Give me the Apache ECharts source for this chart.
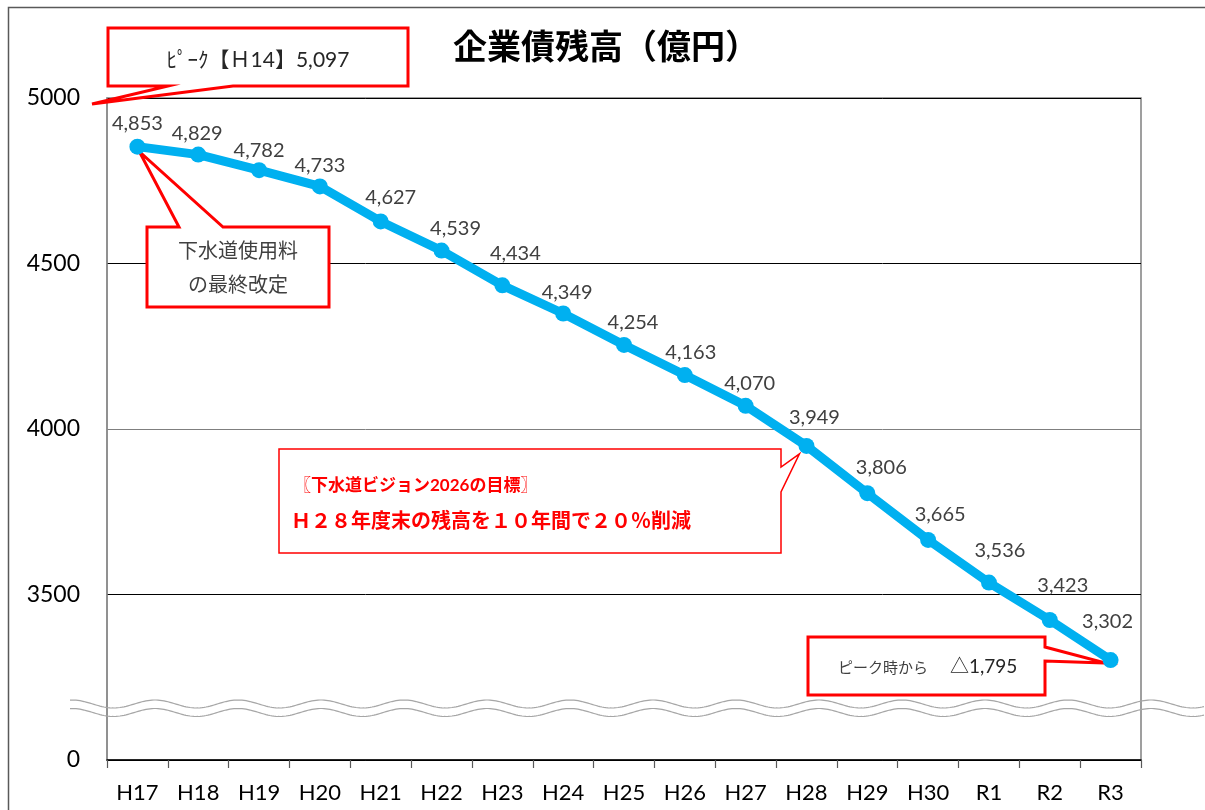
<!DOCTYPE html>
<html><head><meta charset="utf-8">
<script src="https://cdn.jsdelivr.net/npm/echarts@6/dist/echarts.min.js"></script>
<style>html,body{margin:0;padding:0;background:#fff}#c{width:1205px;height:810px}</style>
</head><body><div id="c"></div>
<script>
// ---- data ----
const categories = ['H17','H18','H19','H20','H21','H22','H23','H24','H25','H26','H27','H28','H29','H30','R1','R2','R3'];
const balances = [4853,4829,4782,4733,4627,4539,4434,4349,4254,4163,4070,3949,3806,3665,3536,3423,3302];
const yTicks = [3000,3500,4000,4500,5000];
const yTickLabels = ['0','3500','4000','4500','5000'];
const peakYear = 'Ｈ14';
const peakValue = 5097;
const titleText = '企業債残高（億円）';
const revisionNote = ['下水道使用料','の最終改定'];
const visionTitle = '〖下水道ビジョン2026の目標〗';
const visionGoal = 'Ｈ２８年度末の残高を１０年間で２０％削減';
const reductionLabel = 'ピーク時から';

// ---- layout (label nudges, px) ----
const labelOffsets = [[0,-23],[-1,-21],[0,-20],[0,-21],[10,-24],[14,-22],[13,-32],[4,-21],[9,-22],[6,-23],[4,-22],[8,-28],[14,-26],[12,-25],[11,-32],[13,-34],[-3,-38]];

const fmt = v => v.toLocaleString('en-US');
const LATIN = 'Lato, "Noto Sans CJK JP", sans-serif';
const CJK = '"Noto Sans CJK JP", sans-serif';

const chart = echarts.init(document.getElementById('c'));
chart.setOption({
  animation: false,
  backgroundColor: '#fff',
  title: {
    text: titleText, left: 453, top: 29, padding: 0,
    textStyle: {fontFamily: CJK, fontSize: 34, fontWeight: 'bold', color: '#000'}
  },
  grid: {left: 107, right: 64, top: 98, bottom: 50, show: true, borderColor: '#808080', borderWidth: 1.5},
  xAxis: {
    type: 'category', data: categories, boundaryGap: true,
    axisLine: {lineStyle: {color: '#000', width: 1.5}},
    axisTick: {show: true, length: 8, lineStyle: {color: '#595959', width: 1.2}},
    axisLabel: {fontFamily: LATIN, fontSize: 22, color: '#000', margin: 22}
  },
  yAxis: {
    type: 'value', min: yTicks[0], max: yTicks[yTicks.length-1], interval: 500,
    axisLine: {show: true, lineStyle: {color: '#8c8c8c', width: 1.5}},
    axisTick: {show: false},
    axisLabel: {fontFamily: LATIN, fontSize: 23, color: '#000', margin: 27,
      formatter: v => yTickLabels[yTicks.indexOf(v)]},
    splitLine: {show: true, lineStyle: {color: ['#000','#000','#7f7f7f','#000','#000'], width: 1}}
  },
  series: [{
    type: 'line', z: 5,
    data: balances.map((v, i) => ({value: v, label: {offset: labelOffsets[i]}})),
    lineStyle: {color: '#00B0F0', width: 9},
    itemStyle: {color: '#00B0F0'},
    symbol: 'circle', symbolSize: 16,
    label: {show: true, position: 'inside', align: 'center', verticalAlign: 'middle',
      fontFamily: LATIN, fontSize: 20, color: '#404040', formatter: p => fmt(p.value)}
  }]
});

const pt = i => chart.convertToPixel({gridIndex: 0}, [i, balances[i]]);
const last = balances.length - 1;
const p0 = pt(0), p11 = pt(11), pL = pt(last);

function wave(y0) {
  const pts = [];
  for (let x = 70; x <= 1205; x += 2) pts.push([x, y0 - 4 * Math.cos(2 * Math.PI * (x - 155) / 83)]);
  return pts;
}
const RED = '#FF0000';
chart.setOption({
  graphic: [
    {type: 'rect', z: 0, silent: true, shape: {x: 8.5, y: 7.5, width: 1300, height: 900}, style: {fill: 'none', stroke: '#595959', lineWidth: 1.5}},
    {type: 'polyline', z: 1, silent: true, shape: {points: wave(704)}, style: {stroke: '#a6a6a6', lineWidth: 1.2, fill: 'none'}},
    {type: 'polyline', z: 1, silent: true, shape: {points: wave(712.5)}, style: {stroke: '#a6a6a6', lineWidth: 1.2, fill: 'none'}},
    // peak callout
    {type: 'polygon', z: 1, shape: {points: [[108,28],[408,28],[408,86],[233,86],[92,104],[168,86],[108,86]]}, style: {fill: '#fff', stroke: RED, lineWidth: 3}},
    {type: 'text', z: 2, style: {x: 258, y: 60, text: 'ﾋﾟｰｸ【' + peakYear + '】' + fmt(peakValue), font: '21px ' + LATIN, fill: '#262626', align: 'center', verticalAlign: 'middle'}},
    // revision callout
    {type: 'polygon', z: 1, shape: {points: [[147,227],[179,227],[p0[0]+2,p0[1]+5],[223,227],[329,227],[329,307],[147,307]]}, style: {fill: '#fff', stroke: RED, lineWidth: 3}},
    {type: 'text', z: 2, style: {x: 238, y: 250, text: revisionNote[0], font: '20px ' + CJK, fill: '#404040', align: 'center', verticalAlign: 'middle'}},
    {type: 'text', z: 2, style: {x: 238, y: 284, text: revisionNote[1], font: '20px ' + CJK, fill: '#404040', align: 'center', verticalAlign: 'middle'}},
    // vision callout
    {type: 'polygon', z: 1, shape: {points: [[279,449],[781,449],[781,467],[p11[0]-7,p11[1]+8],[781,492],[781,553],[279,553]]}, style: {fill: '#fff', stroke: RED, lineWidth: 1.5}},
    {type: 'text', z: 2, style: {x: 294, y: 486, text: visionTitle, font: 'bold 17px ' + LATIN, fill: RED, align: 'left', verticalAlign: 'middle'}},
    {type: 'text', z: 2, style: {x: 291, y: 520, text: visionGoal, font: 'bold 20px ' + CJK, fill: RED, align: 'left', verticalAlign: 'middle'}},
    // reduction callout
    {type: 'polygon', z: 1, shape: {points: [[808,637],[1045,637],[1045,647],[pL[0]-5,pL[1]+3],[1045,661],[1045,695],[808,695]]}, style: {fill: '#fff', stroke: RED, lineWidth: 3}},
    {type: 'text', z: 2, style: {x: 838, y: 667, text: reductionLabel, font: '15px ' + CJK, fill: '#404040', align: 'left', verticalAlign: 'middle'}},
    {type: 'text', z: 2, style: {x: 950, y: 667, text: '△' + fmt(peakValue - balances[last]), font: '19px ' + LATIN, fill: '#262626', align: 'left', verticalAlign: 'middle'}}
  ]
});
</script></body></html>
